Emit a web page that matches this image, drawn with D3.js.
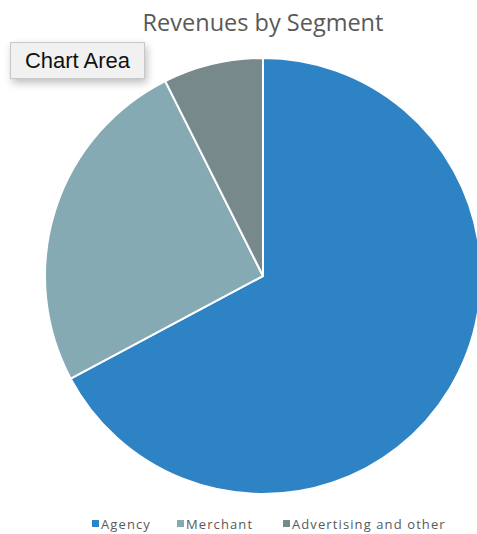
<!DOCTYPE html>
<html>
<head>
<meta charset="utf-8">
<script src="https://cdn.jsdelivr.net/npm/d3@7"></script>
<style>
  body { margin: 0; background: #fff; }
  #tip {
    position: absolute; left: 10px; top: 42px; width: 135px; height: 37px;
    background: #f1f1f1; border: 1px solid #c8c8c8;
    box-shadow: 2px 4px 8px rgba(0,0,0,0.25);
    font-family: "Liberation Sans", Arial, sans-serif; font-size: 22px;
    color: #111; line-height: 36px; text-align: center; box-sizing: border-box;
  }
</style>
</head>
<body>
<div id="wrapper"></div>
<div id="tip">Chart Area</div>
<script>
const segments = ["Agency", "Merchant", "Advertising and other"];
const revenues = [67.2, 25.4, 7.4];
const colors = ["#2e83c4", "#85aab3", "#78898c"];

function drawPie() {
  const dimensions = { width: 477, height: 534, cx: 263, cy: 276, radius: 218 };

  const wrapper = d3.select("#wrapper")
    .append("svg")
    .attr("width", dimensions.width)
    .attr("height", dimensions.height);

  wrapper.append("text")
    .attr("x", 263)
    .attr("y", 31)
    .attr("text-anchor", "middle")
    .attr("font-family", "Open Sans, sans-serif")
    .attr("font-size", 23.5)
    .attr("fill", "#595959")
    .text("Revenues by Segment");

  const color = d3.scaleOrdinal().domain(segments).range(colors);

  const pie = d3.pie().sort(null).value(d => d.value);
  const arcs = pie(segments.map((s, i) => ({ name: s, value: revenues[i] })));
  const arc = d3.arc().innerRadius(0).outerRadius(dimensions.radius);

  const bounds = wrapper.append("g")
    .attr("transform", `translate(${dimensions.cx},${dimensions.cy})`);

  bounds.selectAll("path")
    .data(arcs)
    .join("path")
    .attr("d", arc)
    .attr("fill", d => color(d.data.name))
    .attr("stroke", "#fff")
    .attr("stroke-width", 2);

  // legend
  const legendX = [92, 177, 283];
  const legend = wrapper.append("g");
  const items = legend.selectAll("g")
    .data(segments)
    .join("g")
    .attr("transform", (d, i) => `translate(${legendX[i]},524)`);
  items.append("rect")
    .attr("x", 0).attr("y", -4)
    .attr("width", 7).attr("height", 7)
    .attr("fill", d => color(d));
  items.append("text")
    .attr("x", 9).attr("y", 4.5)
    .attr("font-family", "Open Sans, sans-serif")
    .attr("font-size", 13)
    .attr("letter-spacing", 1.1)
    .attr("fill", "#595959")
    .text(d => d);
}

drawPie();
</script>
</body>
</html>
